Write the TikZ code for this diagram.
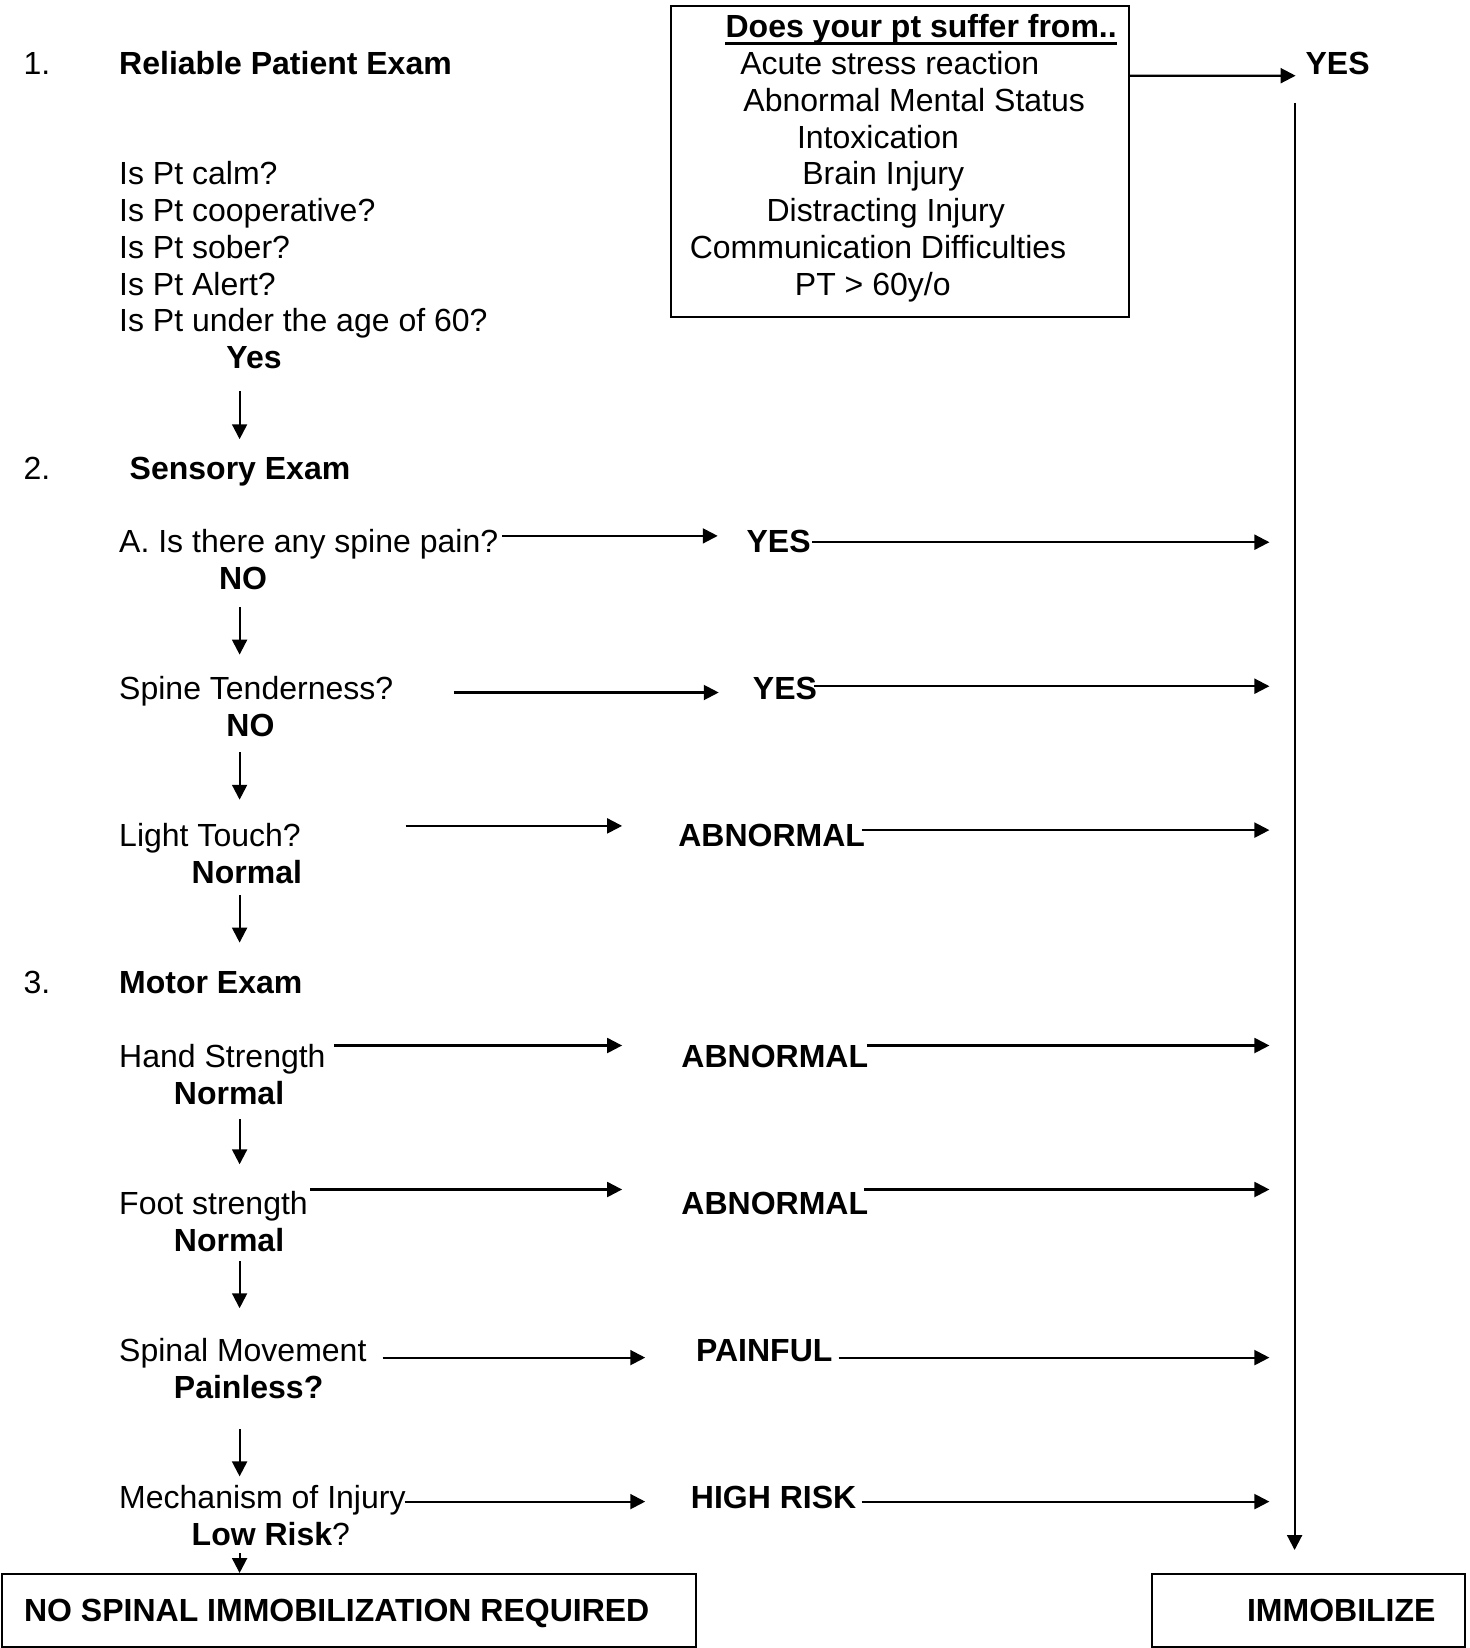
\documentclass[tikz,border=0pt]{standalone}
\usepackage{fontspec}
\setmainfont{Liberation Sans}
\usetikzlibrary{calc,arrows.meta}

\begin{document}
\begin{tikzpicture}[x=0.375pt, y=-0.375pt,
    txt/.style={anchor=west, inner sep=0pt, text height=8.6pt, text depth=0pt, font=\fontsize{12}{13.8}\selectfont},
    bld/.style={txt, font=\fontsize{12}{13.8}\selectfont\bfseries},
    arr/.style={-{Triangle[length=5.6pt,width=5.6pt]}, line width=0.8pt},
    endbox/.style={draw, line width=0.75pt, anchor=north west, minimum height=27.2pt, text height=8.6pt, text depth=0pt, font=\fontsize{12}{13.8}\selectfont\bfseries}]
    \useasboundingbox (0,0) rectangle (1469,1648);

    % 1. reliable exam
    \node[txt] (n1) at (23.1,63) {1.};
    \node[bld] (reliable) at (118.7,63) {Reliable Patient Exam};
    \node[txt] (calm) at (118.7,173.4) {Is Pt calm?};
    \node[txt] (coop) at (118.7,210.2) {Is Pt cooperative?};
    \node[txt] (sober) at (118.7,246.9) {Is Pt sober?};
    \node[txt] (alert) at (118.7,283.7) {Is Pt Alert?};
    \node[txt] (age) at (118.7,320.5) {Is Pt under the age of 60?};
    \node[bld] (yes1) at (225.9,357.3) {Yes};

    % box top right
    \node[draw, line width=0.75pt, anchor=north west, minimum width=171.6pt, minimum height=116.6pt, inner sep=0pt] (susbox) at (670.4,5.3) {};
    \node[bld] (hdr) at (725.1,26.3) {Does your pt suffer from..};
    \draw[line width=1.1pt] ($(hdr.base west)+(0,5.5)$) -- ($(hdr.base east)+(0,5.5)$);
    \node[txt] (l1) at (739.8,63.0) {Acute stress reaction};
    \node[txt] (l2) at (742.9,99.8) {Abnormal Mental Status};
    \node[txt] (l3) at (796.5,136.6) {Intoxication};
    \node[txt] (l4) at (801.8,173.4) {Brain Injury};
    \node[txt] (l5) at (766.0,210.2) {Distracting Injury};
    \node[txt] (l6) at (689.3,246.9) {Communication Difficulties};
    \node[txt] (l7) at (794.4,283.7) {PT > 60y/o};

    \node[bld] (topyes) at (1305.1,63) {YES};
    \draw[arr] ($(susbox.north east)+(0,70.4)$) -- ($(topyes.west)+(-9.5,12.7)$);

    \coordinate (rail) at (1269.4,0);

    % 2. sensory exam
    \node[txt] (n2) at (23.1,467.6) {2.};
    \node[bld] (sensory) at (129.2,467.6) {Sensory Exam};
    \draw[arr] ($(yes1.west)+(13.7,33.6)$) -- ($(sensory.west)+(110.4,-28.4)$);

    \node[txt] (painq) at (118.7,541.2) {A. Is there any spine pain?};
    \node[bld] (painy) at (746.1,541.2) {YES};
    \draw[arr] ($(painq.west)+(383.6,-5.3)$) -- ($(painy.west)+(-28.4,-5.3)$);
    \draw[arr] ($(painy.west)+(66.2,1)$) -- ($(painy.west -| rail)+(0,1)$);
    \node[bld] (no1) at (218.6,577.9) {NO};

    \node[txt] (tendq) at (118.7,688.3) {Spine Tenderness?};
    \node[bld] (tendy) at (752.4,688.3) {YES};
    \draw[arr] ($(no1.west)+(21,29.5)$) -- ($(tendq.west)+(120.9,-33.7)$);
    \draw[arr] ($(tendq.west)+(335.2,4.2)$) -- ($(tendy.west)+(-33.7,4.2)$);
    \draw[arr] ($(tendy.west)+(62,-2.1)$) -- ($(tendy.west -| rail)+(0,-2.1)$);
    \node[bld] (no2) at (225.9,725.1) {NO};

    \node[txt] (touchq) at (118.7,835.4) {Light Touch?};
    \node[bld] (toucha) at (677.8,835.4) {ABNORMAL};
    \draw[arr] ($(no2.west)+(13.7,27.3)$) -- ($(touchq.west)+(120.9,-35.7)$);
    \draw[arr] ($(touchq.west)+(286.9,-9.5)$) -- ($(toucha.west)+(-55.7,-9.5)$);
    \draw[arr] ($(toucha.west)+(183.9,-5.3)$) -- ($(toucha.west -| rail)+(0,-5.3)$);
    \node[bld] (norm1) at (191.2,872.2) {Normal};

    % 3. motor exam
    \node[txt] (n3) at (23.1,982.5) {3.};
    \node[bld] (motor) at (118.7,982.5) {Motor Exam};
    \draw[arr] ($(norm1.west)+(48.4,23.1)$) -- ($(motor.west)+(120.9,-39.9)$);

    \node[txt] (handq) at (118.7,1056.1) {Hand Strength};
    \node[bld] (handa) at (680.9,1056.1) {ABNORMAL};
    \draw[arr] ($(handq.west)+(215.5,-10.6)$) -- ($(handa.west)+(-58.8,-10.6)$);
    \draw[arr] ($(handa.west)+(186,-10.6)$) -- ($(handa.west -| rail)+(0,-10.6)$);
    \node[bld] (norm2) at (173.4,1092.8) {Normal};

    \node[txt] (footq) at (118.7,1203.2) {Foot strength};
    \node[bld] (foota) at (680.9,1203.2) {ABNORMAL};
    \draw[arr] ($(norm2.west)+(66.2,26.3)$) -- ($(footq.west)+(120.9,-38.9)$);
    \draw[arr] ($(footq.west)+(191.3,-13.7)$) -- ($(foota.west)+(-58.8,-13.7)$);
    \draw[arr] ($(foota.west)+(182.9,-13.7)$) -- ($(foota.west -| rail)+(0,-13.7)$);
    \node[bld] (norm3) at (173.4,1239.9) {Normal};

    \node[txt] (moveq) at (118.7,1350.3) {Spinal Movement};
    \node[bld] (movea) at (695.6,1350.3) {PAINFUL};
    \draw[arr] ($(norm3.west)+(66.2,21.1)$) -- ($(moveq.west)+(120.9,-42.1)$);
    \draw[arr] ($(moveq.west)+(263.8,7.3)$) -- ($(movea.west)+(-50.4,7.3)$);
    \draw[arr] ($(movea.west)+(142.9,7.3)$) -- ($(movea.west -| rail)+(0,7.3)$);
    \node[bld] (painless) at (173.4,1387.1) {Painless?};

    \node[txt] (mechq) at (118.7,1497.4) {Mechanism of Injury};
    \node[bld] (mecha) at (690.4,1497.4) {HIGH RISK};
    \draw[arr] ($(painless.west)+(66.2,42)$) -- ($(mechq.west)+(120.9,-21)$);
    \draw[arr] ($(mechq.west)+(285.9,4.2)$) -- ($(mecha.west)+(-45.2,4.2)$);
    \draw[arr] ($(mecha.west)+(171.3,4.2)$) -- ($(mecha.west -| rail)+(0,4.2)$);
    \node[txt] (lowrisk) at (191.2,1534.2) {\textbf{Low Risk}?};

    % outcomes
    \node[endbox, minimum width=260.1pt, text width=243.5pt, inner xsep=8.3pt, align=flush left] (nosib) at (1,1573) {NO SPINAL IMMOBILIZATION REQUIRED};
    \node[endbox, minimum width=117.45pt, text width=95.45pt, inner xsep=11pt, align=flush right] (immob) at (1150.6,1573) {IMMOBILIZE};

    \draw[arr] ($(lowrisk.west)+(48.4,18.9)$) -- ($(nosib.north west)+(238.6,0)$);
    \draw[arr] ($(topyes.west)+(-10.5,40)$) -- ($(immob.north west)+(144,-23)$);

\end{tikzpicture}
\end{document}
